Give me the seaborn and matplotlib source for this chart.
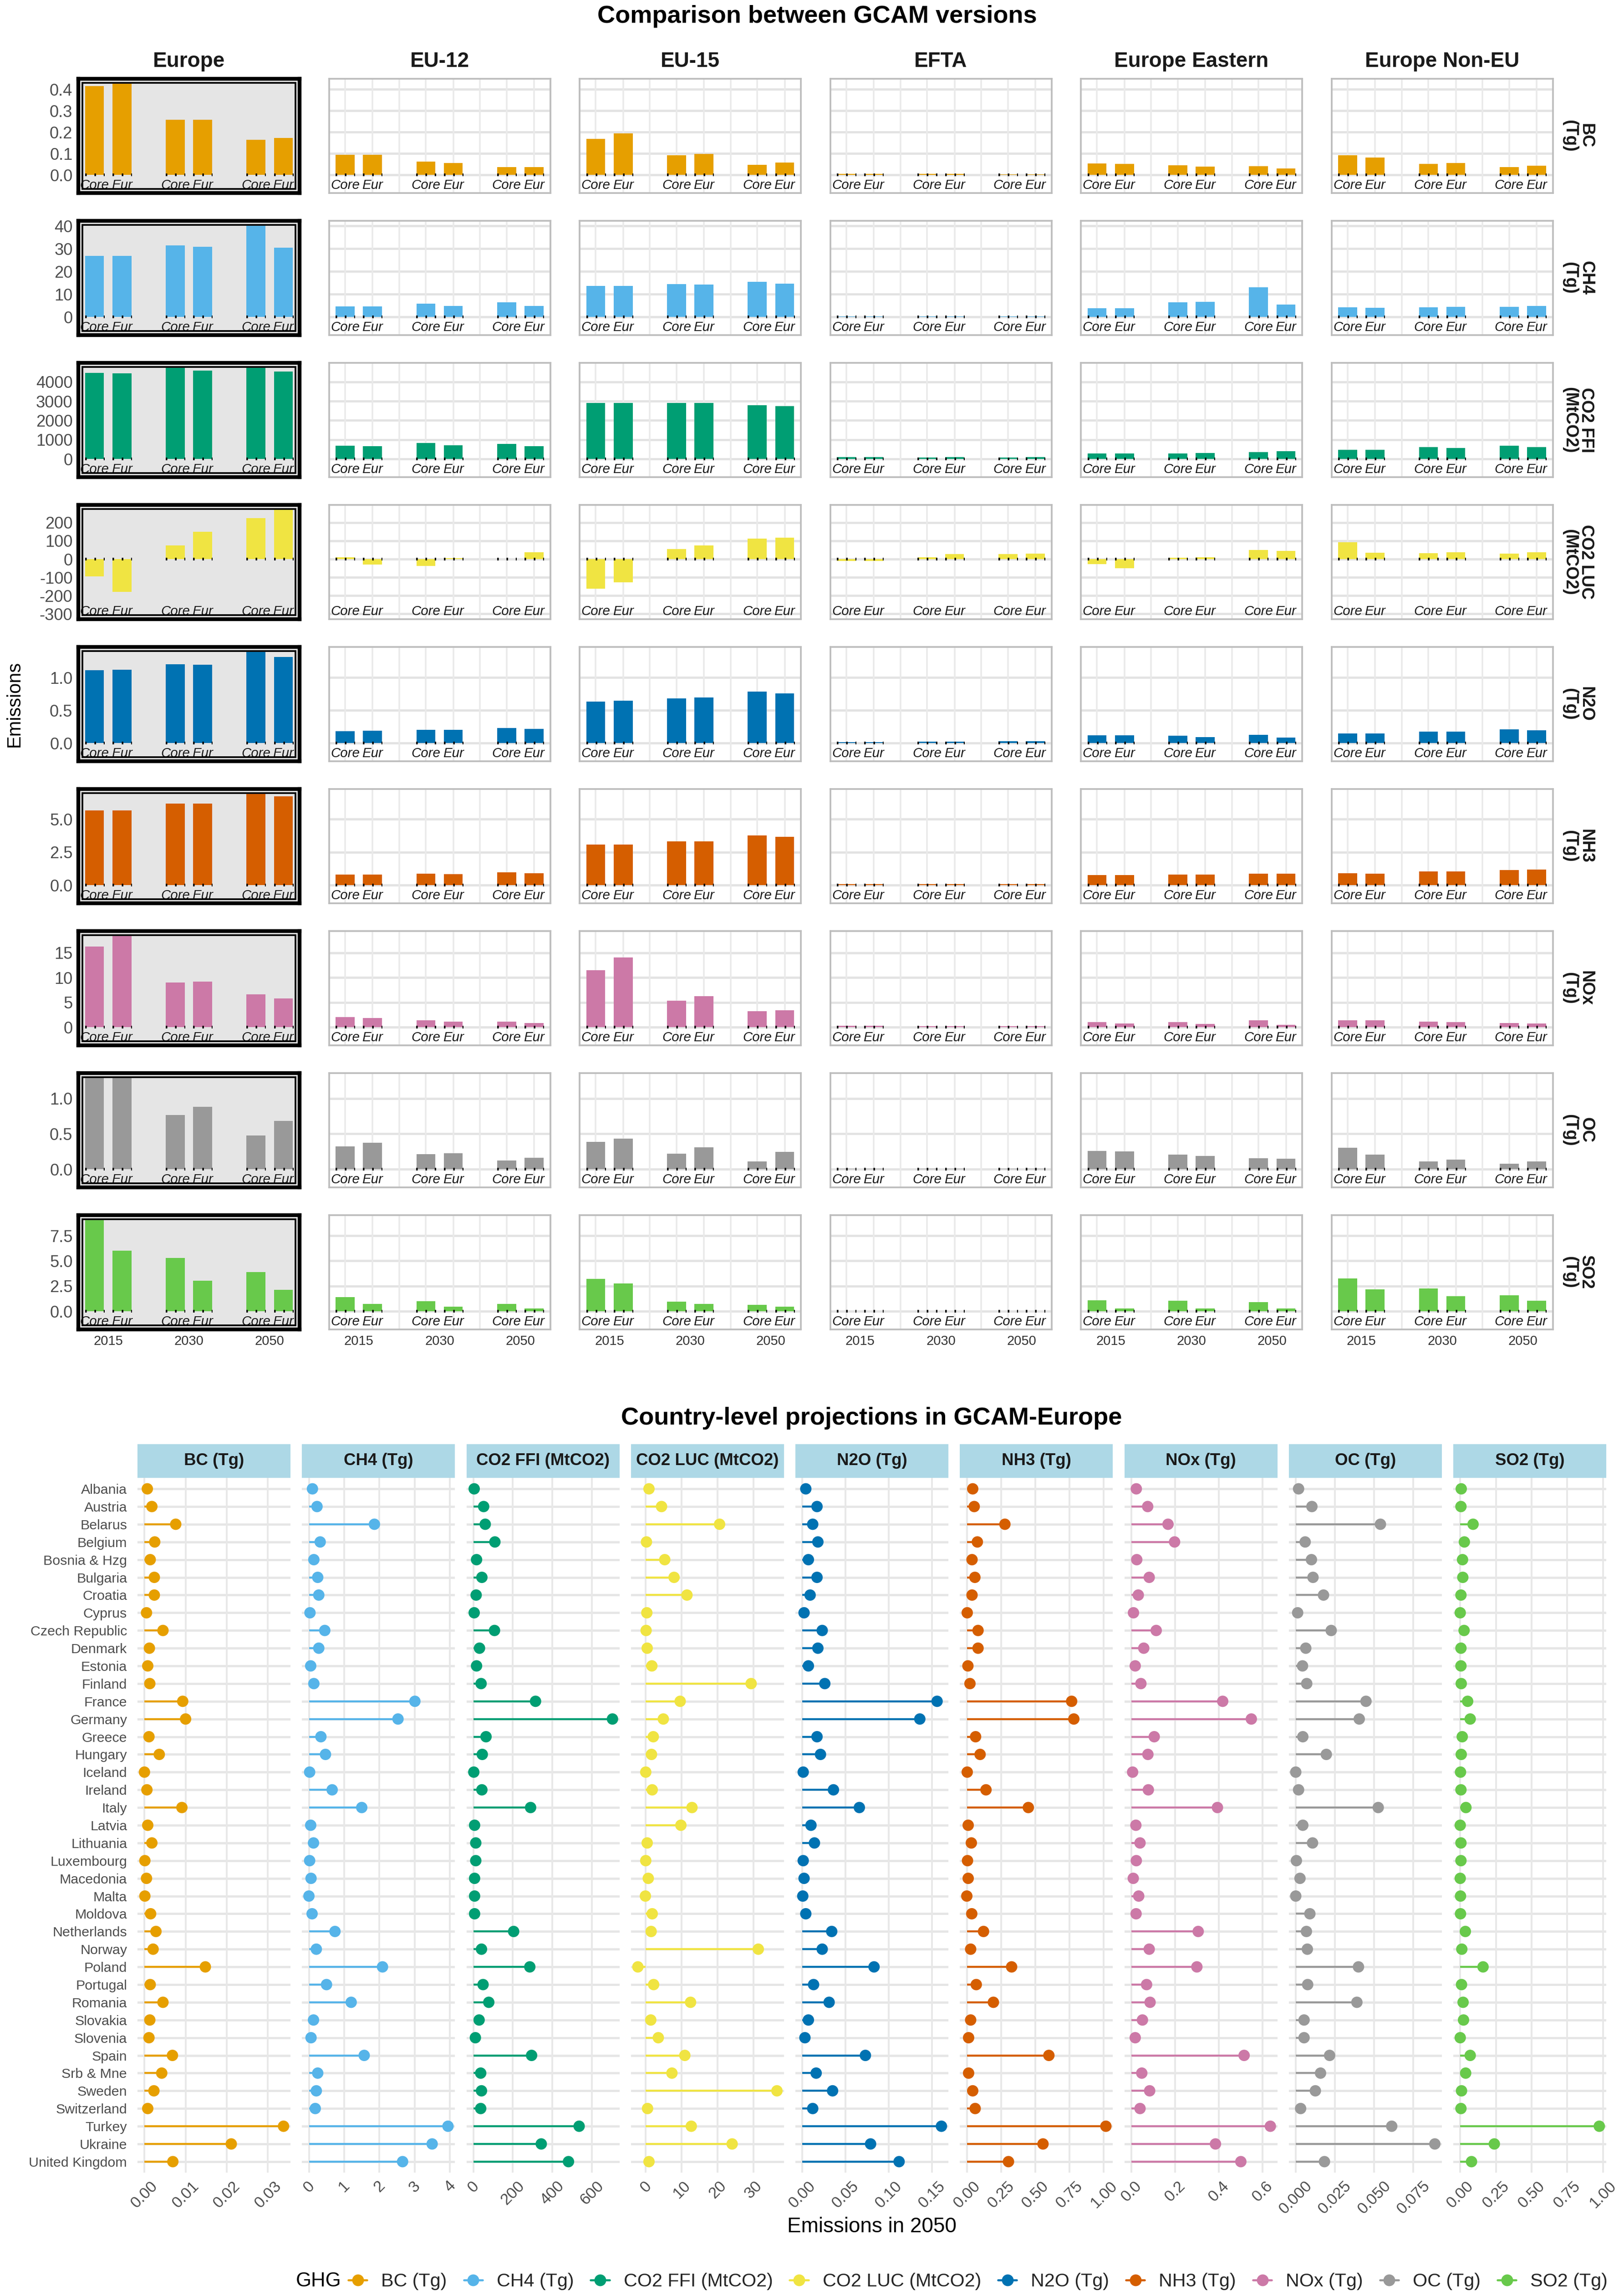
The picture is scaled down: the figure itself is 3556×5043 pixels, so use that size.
import numpy as np
import pandas as pd
import matplotlib
matplotlib.use("Agg")
import matplotlib.pyplot as plt
import matplotlib.transforms as mtransforms
from matplotlib.lines import Line2D
from matplotlib.patches import Rectangle
import seaborn as sns

sns.set_theme(style="white")
plt.rcParams['font.family'] = ['Liberation Sans', 'DejaVu Sans']

# ---------------- data: top chart (values per region: C2015,E2015,C2030,E2030,C2050,E2050)
REGIONS = ['Europe', 'EU-12', 'EU-15', 'EFTA', 'Europe Eastern', 'Europe Non-EU']
YEARS = ['2015', '2030', '2050']
VERSIONS = ['Core', 'Eur']

BC_VALS = [[0.416, 0.426, 0.257, 0.257, 0.164, 0.173],
           [0.093, 0.093, 0.062, 0.056, 0.037, 0.037],
           [0.169, 0.193, 0.091, 0.099, 0.047, 0.058],
           [0.005, 0.005, 0.004, 0.004, 0.003, 0.003],
           [0.053, 0.051, 0.044, 0.039, 0.041, 0.030],
           [0.091, 0.082, 0.051, 0.056, 0.037, 0.043]]
CH4_VALS = [[26.9, 26.8, 31.5, 30.8, 40.0, 30.4],
            [4.7, 4.7, 5.9, 4.9, 6.5, 4.9],
            [13.6, 13.6, 14.5, 14.3, 15.5, 14.7],
            [0.3, 0.3, 0.3, 0.3, 0.3, 0.3],
            [3.9, 3.9, 6.4, 6.7, 13.0, 5.5],
            [4.3, 4.1, 4.3, 4.5, 4.5, 4.9]]
CO2FFI_VALS = [[4472, 4454, 4731, 4593, 4731, 4537],
               [694, 667, 833, 713, 787, 667],
               [2917, 2917, 2898, 2898, 2796, 2750],
               [83, 83, 65, 83, 65, 83],
               [278, 278, 278, 306, 352, 398],
               [472, 472, 620, 574, 694, 620]]
CO2LUC_VALS = [[-95, -180, 74, 150, 224, 272],
               [10, -31, -38, 5, 0, 38],
               [-161, -128, 56, 76, 112, 117],
               [-10, -10, 10, 28, 28, 30],
               [-28, -51, 8, 10, 51, 46],
               [92, 35, 33, 38, 30, 38]]
N2O_VALS = [[1.115, 1.123, 1.208, 1.200, 1.393, 1.314],
            [0.180, 0.186, 0.202, 0.202, 0.230, 0.216],
            [0.637, 0.650, 0.680, 0.694, 0.787, 0.757],
            [0.016, 0.016, 0.022, 0.022, 0.030, 0.030],
            [0.115, 0.115, 0.109, 0.093, 0.123, 0.087],
            [0.145, 0.145, 0.172, 0.172, 0.208, 0.194]]
NH3_VALS = [[5.68, 5.68, 6.17, 6.17, 6.91, 6.73],
            [0.79, 0.79, 0.85, 0.83, 0.96, 0.89],
            [3.09, 3.09, 3.33, 3.33, 3.77, 3.66],
            [0.08, 0.08, 0.08, 0.08, 0.08, 0.08],
            [0.76, 0.76, 0.79, 0.79, 0.85, 0.85],
            [0.89, 0.85, 1.03, 1.03, 1.14, 1.18]]
NOX_VALS = [[16.3, 18.4, 9.0, 9.2, 6.6, 5.8],
            [2.0, 1.8, 1.4, 1.1, 1.1, 0.8],
            [11.5, 14.1, 5.3, 6.3, 3.2, 3.4],
            [0.3, 0.3, 0.15, 0.15, 0.15, 0.15],
            [1.0, 0.7, 1.0, 0.6, 1.4, 0.5],
            [1.4, 1.4, 1.1, 1.0, 0.8, 0.7]]
OC_VALS = [[1.287, 1.287, 0.768, 0.879, 0.479, 0.683],
           [0.320, 0.373, 0.214, 0.227, 0.123, 0.161],
           [0.385, 0.431, 0.222, 0.312, 0.108, 0.242],
           [0.008, 0.008, 0.008, 0.008, 0.008, 0.008],
           [0.259, 0.254, 0.209, 0.189, 0.156, 0.149],
           [0.300, 0.209, 0.108, 0.136, 0.076, 0.108]]
SO2_VALS = [[9.04, 6.03, 5.29, 3.02, 3.90, 2.14],
            [1.40, 0.71, 0.99, 0.43, 0.71, 0.25],
            [3.21, 2.75, 0.94, 0.71, 0.62, 0.43],
            [0.02, 0.02, 0.02, 0.02, 0.02, 0.02],
            [1.08, 0.29, 1.03, 0.29, 0.90, 0.29],
            [3.26, 2.19, 2.24, 1.50, 1.59, 1.03]]

ROW_LABELS = ['BC\n(Tg)', 'CH4\n(Tg)', 'CO2 FFI\n(MtCO2)', 'CO2 LUC\n(MtCO2)', 'N2O\n(Tg)',
              'NH3\n(Tg)', 'NOx\n(Tg)', 'OC\n(Tg)', 'SO2\n(Tg)']
ROW_TICKS = [[0.0, 0.1, 0.2, 0.3, 0.4], [0, 10, 20, 30, 40], [0, 1000, 2000, 3000, 4000],
             [-300, -200, -100, 0, 100, 200], [0.0, 0.5, 1.0], [0.0, 2.5, 5.0],
             [0, 5, 10, 15], [0.0, 0.5, 1.0], [0.0, 2.5, 5.0, 7.5]]
ROW_TICKLABELS = [['0.0', '0.1', '0.2', '0.3', '0.4'], ['0', '10', '20', '30', '40'],
                  ['0', '1000', '2000', '3000', '4000'], ['-300', '-200', '-100', '0', '100', '200'],
                  ['0.0', '0.5', '1.0'], ['0.0', '2.5', '5.0'], ['0', '5', '10', '15'],
                  ['0.0', '0.5', '1.0'], ['0.0', '2.5', '5.0', '7.5']]

# ---------------- data: bottom chart
GASES = ['BC (Tg)', 'CH4 (Tg)', 'CO2 FFI (MtCO2)', 'CO2 LUC (MtCO2)', 'N2O (Tg)',
         'NH3 (Tg)', 'NOx (Tg)', 'OC (Tg)', 'SO2 (Tg)']
COLORS = ['#E69F00', '#56B4E9', '#009E73', '#F0E442', '#0072B2',
          '#D55E00', '#CC79A7', '#999999', '#68C94B']
COUNTRIES = ['Albania', 'Austria', 'Belarus', 'Belgium', 'Bosnia & Hzg', 'Bulgaria', 'Croatia',
             'Cyprus', 'Czech Republic', 'Denmark', 'Estonia', 'Finland', 'France', 'Germany',
             'Greece', 'Hungary', 'Iceland', 'Ireland', 'Italy', 'Latvia', 'Lithuania',
             'Luxembourg', 'Macedonia', 'Malta', 'Moldova', 'Netherlands', 'Norway', 'Poland',
             'Portugal', 'Romania', 'Slovakia', 'Slovenia', 'Spain', 'Srb & Mne', 'Sweden',
             'Switzerland', 'Turkey', 'Ukraine', 'United Kingdom']

BC_2050 = [0.0007, 0.0018, 0.0076, 0.0025, 0.0014, 0.0024, 0.0024, 0.0005, 0.0045, 0.0012,
           0.0008, 0.0013, 0.0093, 0.0100, 0.0011, 0.0036, 0.0000, 0.0006, 0.0091, 0.0008,
           0.0018, 0.0001, 0.0005, 0.0001, 0.0015, 0.0028, 0.0021, 0.0148, 0.0014, 0.0045,
           0.0013, 0.0011, 0.0068, 0.0042, 0.0023, 0.0008, 0.0338, 0.0211, 0.0069]
CH4_2050 = [0.10, 0.23, 1.86, 0.32, 0.14, 0.25, 0.28, 0.03, 0.45, 0.28, 0.05, 0.14, 3.01,
            2.53, 0.34, 0.47, 0.02, 0.66, 1.50, 0.05, 0.13, 0.02, 0.06, 0.00, 0.09, 0.74,
            0.21, 2.09, 0.50, 1.20, 0.13, 0.06, 1.57, 0.25, 0.21, 0.18, 3.95, 3.50, 2.66]
CO2FFI_2050 = [4, 52, 60, 109, 16, 43, 14, 4, 107, 31, 16, 39, 315, 705, 64, 45, 2, 43, 290,
               6, 12, 12, 6, 6, 6, 204, 41, 286, 49, 78, 29, 10, 295, 37, 41, 37, 536, 344, 482]
CO2LUC_2050 = [0.9, 4.4, 20.6, 0.2, 5.3, 7.9, 11.5, 0.3, 0.1, 0.4, 1.7, 29.4, 9.6, 4.9, 2.1,
               1.6, 0.0, 1.8, 12.9, 9.8, 0.4, 0.0, 0.7, -0.1, 1.8, 1.5, 31.4, -2.2, 2.2, 12.5,
               1.4, 3.5, 10.9, 7.3, 36.6, 0.5, 12.7, 24.1, 0.9]
N2O_2050 = [0.004, 0.017, 0.012, 0.018, 0.007, 0.017, 0.009, 0.002, 0.023, 0.018, 0.007,
            0.026, 0.156, 0.136, 0.017, 0.021, 0.001, 0.036, 0.066, 0.010, 0.014, 0.001,
            0.002, 0.0005, 0.004, 0.034, 0.023, 0.083, 0.013, 0.031, 0.007, 0.003, 0.073,
            0.016, 0.035, 0.012, 0.161, 0.079, 0.112]
NH3_2050 = [0.043, 0.054, 0.278, 0.077, 0.038, 0.059, 0.038, 0.003, 0.082, 0.082, 0.008,
            0.023, 0.765, 0.781, 0.064, 0.097, 0.003, 0.140, 0.449, 0.010, 0.033, 0.005,
            0.010, 0.000, 0.036, 0.122, 0.028, 0.327, 0.069, 0.194, 0.028, 0.013, 0.599,
            0.013, 0.043, 0.061, 1.015, 0.556, 0.304]
NOX_2050 = [0.023, 0.075, 0.168, 0.198, 0.025, 0.082, 0.032, 0.010, 0.114, 0.057, 0.018,
            0.044, 0.418, 0.549, 0.105, 0.076, 0.006, 0.078, 0.394, 0.021, 0.040, 0.023,
            0.009, 0.034, 0.022, 0.306, 0.082, 0.300, 0.070, 0.086, 0.051, 0.018, 0.516,
            0.048, 0.084, 0.040, 0.636, 0.385, 0.501]
OC_2050 = [0.0018, 0.0103, 0.054, 0.006, 0.010, 0.011, 0.0177, 0.0012, 0.0226, 0.0064,
           0.0043, 0.007, 0.0448, 0.0405, 0.0045, 0.0195, 0.000, 0.0018, 0.0526, 0.0045,
           0.0107, 0.0004, 0.0027, 0.000, 0.009, 0.0068, 0.0074, 0.040, 0.0076, 0.039,
           0.0053, 0.0053, 0.0216, 0.0158, 0.0125, 0.0031, 0.0612, 0.0887, 0.0183]
SO2_2050 = [0.007, 0.005, 0.09, 0.029, 0.016, 0.018, 0.005, 0.0, 0.027, 0.005, 0.005, 0.007,
            0.052, 0.07, 0.014, 0.007, 0.002, 0.005, 0.04, 0.0, 0.005, 0.005, 0.0, 0.002,
            0.002, 0.036, 0.011, 0.16, 0.009, 0.02, 0.023, 0.0, 0.07, 0.038, 0.009, 0.005,
            0.975, 0.239, 0.079]

X_TICKLABELS = [['0.00', '0.01', '0.02', '0.03'], ['0', '1', '2', '3', '4'],
                ['0', '200', '400', '600'], ['0', '10', '20', '30'],
                ['0.00', '0.05', '0.10', '0.15'], ['0.00', '0.25', '0.50', '0.75', '1.00'],
                ['0.0', '0.2', '0.4', '0.6'], ['0.000', '0.025', '0.050', '0.075'],
                ['0.00', '0.25', '0.50', '0.75', '1.00']]

TOP_VALS = [BC_VALS, CH4_VALS, CO2FFI_VALS, CO2LUC_VALS, N2O_VALS, NH3_VALS, NOX_VALS,
            OC_VALS, SO2_VALS]
BOTTOM_VALS = [BC_2050, CH4_2050, CO2FFI_2050, CO2LUC_2050, N2O_2050, NH3_2050, NOX_2050,
               OC_2050, SO2_2050]

# ---------------- figure
W, H = 3556, 5043
DPI = 300
fig = plt.figure(figsize=(W / DPI, H / DPI), dpi=DPI)
fig.patch.set_facecolor('white')


def add_ax(left, top, w, h):
    return fig.add_axes([left / W, 1 - (top + h) / H, w / W, h / H])


def fx(x):
    return x / W


def fy(y):
    return 1 - y / H


GRID = '#e3e3e3'
BAR_DODGE = 0.17

# ---------------- top chart
fig.text(fx(1795), fy(36), 'Comparison between GCAM versions', ha='center', va='center',
         fontsize=13, fontweight='bold', color='black')
COL_L0, COL_P, COL_W = 172, 550.5, 486
ROW_T0, ROW_P, ROW_H = 173, 312, 251

for c, reg in enumerate(REGIONS):
    fig.text(fx(COL_L0 + COL_P * c + COL_W / 2), fy(135), reg, ha='center', va='center',
             fontsize=11, fontweight='bold', color='#1a1a1a')

fig.text(fx(32), fy(ROW_T0 + (8 * ROW_P + ROW_H) / 2), 'Emissions', rotation=90,
         ha='center', va='center', fontsize=10, color='black')

for r, vals in enumerate(TOP_VALS):
    color = COLORS[r]
    allv = np.array(vals, dtype=float)
    vmax = allv.max()
    vmin0 = min(0.0, allv.min())
    R = vmax - vmin0
    ytop = vmax + 0.055 * R
    ybot = vmin0 - (0.33 if allv.min() < 0 else 0.2) * R
    for c, reg in enumerate(REGIONS):
        ax = add_ax(COL_L0 + COL_P * c, ROW_T0 + ROW_P * r, COL_W, ROW_H)
        df = pd.DataFrame({'year': np.repeat(YEARS, 2), 'version': VERSIONS * 3,
                           'value': vals[c]})
        ax.set_axisbelow(True)
        if c == 0:
            ax.set_facecolor('#e5e5e5')
        else:
            ax.set_facecolor('white')
            for yt in ROW_TICKS[r]:
                ax.axhline(yt, color=GRID, lw=1.2, zorder=0)
            for xv in [-0.17, 0.17, 0.5, 0.83, 1.17, 1.5, 1.83, 2.17]:
                ax.axvline(xv, color='#eaeaea', lw=0.85, zorder=0)
        sns.barplot(data=df, x='year', y='value', hue='version', order=YEARS,
                    hue_order=VERSIONS, palette=[color, color], width=0.68, gap=0.31,
                    saturation=1, errorbar=None, legend=False, linewidth=0, ax=ax, zorder=2)
        trans = mtransforms.blended_transform_factory(ax.transData, ax.transAxes)
        for i in range(3):
            for j, ver in enumerate(VERSIONS):
                xc = i + (-BAR_DODGE if j == 0 else BAR_DODGE)
                ax.hlines(0, xc - 0.118, xc + 0.125, colors='black',
                          linestyles=(0, (0.6, 2.9)), lw=1.4, zorder=3)
                ax.text(xc, 0.068, ver, transform=trans, ha='center', va='center',
                        fontsize=7.1, style='italic', color='#1a1a1a')
        ax.set_xlim(-0.37, 2.37)
        ax.set_ylim(ybot, ytop)
        ax.set_xlabel('')
        ax.set_ylabel('')
        ax.set_yticks(ROW_TICKS[r])
        if c == 0:
            ax.set_yticklabels(ROW_TICKLABELS[r], fontsize=8.7, color='#4d4d4d')
        else:
            ax.set_yticklabels([])
        ax.set_xticks([0, 1, 2])
        if r == 8:
            ax.set_xticklabels(YEARS, fontsize=7, color='#333333')
        else:
            ax.set_xticklabels([])
        ax.tick_params(length=0, pad=3)
        if c == 0:
            for sp in ax.spines.values():
                sp.set_color('black')
                sp.set_linewidth(2.0)
            dx, dy = 9 / COL_W, 9 / ROW_H
            ax.add_patch(Rectangle((dx, dy), 1 - 2 * dx, 1 - 2 * dy, transform=ax.transAxes,
                                   fill=False, ec='black', lw=0.9, zorder=5, clip_on=False))
        else:
            for sp in ax.spines.values():
                sp.set_color('#bdbdbd')
                sp.set_linewidth(0.9)
    fig.text(fx(3466), fy(ROW_T0 + ROW_P * r + ROW_H / 2), ROW_LABELS[r], rotation=270,
             ha='center', va='center', multialignment='center', fontsize=9,
             fontweight='bold', color='#1a1a1a', linespacing=1.0)

# ---------------- bottom chart
fig.text(fx(1914), fy(3115), 'Country-level projections in GCAM-Europe', ha='center',
         va='center', fontsize=13, fontweight='bold', color='black')
B_L0, B_P, B_W = 302, 361.25, 336
STRIP_T, STRIP_H = 3172, 74
PANEL_T, PANEL_B = 3246, 4772
npos = np.arange(len(COUNTRIES))

for k, vals in enumerate(BOTTOM_VALS):
    color = COLORS[k]
    left = B_L0 + B_P * k
    sax = add_ax(left, STRIP_T, B_W, STRIP_H)
    sax.set_facecolor('#add8e6')
    sax.set_xticks([])
    sax.set_yticks([])
    for sp in sax.spines.values():
        sp.set_visible(False)
    sax.text(0.5, 0.5, GASES[k], ha='center', va='center', fontsize=8.8, fontweight='bold',
             color='#1a1a1a', transform=sax.transAxes)

    ax = add_ax(left, PANEL_T, B_W, PANEL_B - PANEL_T)
    ax.set_facecolor('white')
    df = pd.DataFrame({'country': COUNTRIES, 'value': vals, 'pos': npos})
    xt = [float(t) for t in X_TICKLABELS[k]]
    for yv in npos:
        ax.axhline(yv, color='#e6e6e6', lw=1.2, zorder=0)
    for xv in xt:
        ax.axvline(xv, color='#e8e8e8', lw=0.95, zorder=0)
    ax.hlines(df['pos'], 0, df['value'], colors=color, lw=1.05, zorder=2)
    sns.scatterplot(data=df, x='value', y='pos', color=color, s=36, edgecolor='none',
                    linewidth=0, ax=ax, zorder=3, legend=False)
    vmin0 = min(0.0, min(vals))
    vmax = max(vals)
    R = vmax - vmin0
    ax.set_xlim(vmin0 - 0.05 * R, vmax + 0.05 * R)
    ax.set_ylim(len(COUNTRIES) - 1 + 0.62, -0.62)
    ax.set_xticks(xt)
    ax.set_xticklabels(X_TICKLABELS[k], rotation=45, ha='center', va='top', fontsize=8.3,
                       color='#4d4d4d')
    ax.set_yticks(npos)
    if k == 0:
        ax.set_yticklabels(COUNTRIES, fontsize=7.3, color='#4d4d4d')
    else:
        ax.set_yticklabels([])
    ax.tick_params(axis='y', length=0, pad=5.5)
    ax.tick_params(axis='x', length=0, pad=3)
    ax.set_xlabel('')
    ax.set_ylabel('')
    for sp in ax.spines.values():
        sp.set_visible(False)

fig.text(fx(1915), fy(4891), 'Emissions in 2050', ha='center', va='center', fontsize=11,
         color='black')

handles = [Line2D([0], [0], color=c, lw=1.1, marker='o', markersize=6.2,
                  markeredgewidth=0) for c in COLORS]
fig.text(fx(700), fy(5011), 'GHG', ha='center', va='center', fontsize=10.5, color='black')
fig.legend(handles, GASES, loc='center left', bbox_to_anchor=(fx(765), fy(5011)), ncol=9,
           frameon=False, fontsize=9.9, handlelength=1.0, handletextpad=0.75,
           columnspacing=0.9, borderaxespad=0, borderpad=0)

fig.savefig('out.png', dpi=DPI, facecolor='white')
